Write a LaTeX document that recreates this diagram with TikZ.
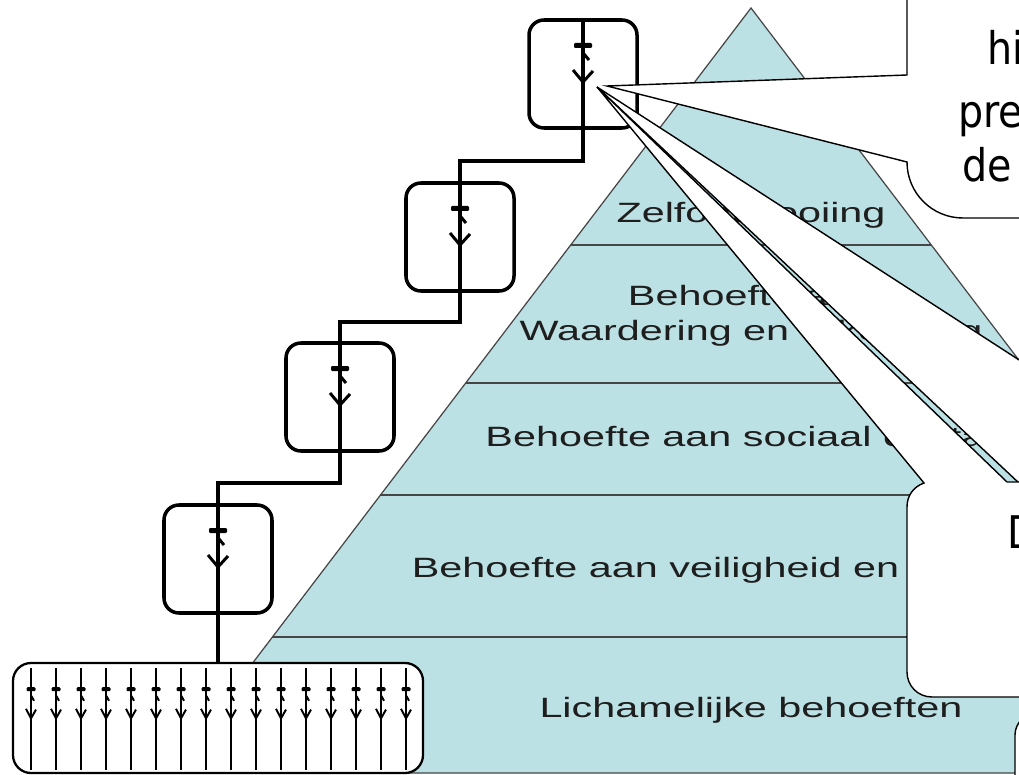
\documentclass[tikz,border=0pt]{standalone}
\usepackage{fontspec}
\setmainfont{Liberation Sans}
\newfontfamily\piramidefont{Liberation Sans}[FakeStretch=1.48]
\newfontfamily\ballonfont{DejaVu Sans}[FakeStretch=0.88]

\definecolor{piramide}{RGB}{188,225,228}
\definecolor{randgrijs}{RGB}{70,70,70}
\definecolor{tekstgrijs}{RGB}{30,30,30}

\tikzstyle{doos}=[draw, fill=white, rounded corners=3mm, line width=2pt,
                  minimum width=21.6mm, minimum height=21.6mm, inner sep=0pt]
\tikzstyle{groep}=[draw, fill=white, rounded corners=3.6mm, line width=1.3pt,
                   minimum width=82mm, minimum height=22mm, inner sep=0pt]
\tikzstyle{trap}=[line width=1.9pt]
\tikzstyle{laag}=[draw=randgrijs, line width=0.7pt]
\tikzstyle{laagtekst}=[anchor=base, inner sep=0pt, text=tekstgrijs,
                       font=\piramidefont\fontsize{15.9}{19}\selectfont]
\tikzstyle{ballon}=[draw, fill=white, line width=0.8pt]
\tikzstyle{ballontekst}=[anchor=base west, inner sep=0pt,
                         font=\ballonfont\fontsize{25.6}{30}\selectfont]

% poppetje op de trap
\tikzset{poppetje/.pic={
    \fill[rounded corners=0.6pt] (-9,-31) rectangle (9,-26);
    \draw (1,-20) -- (6,-14);
    \draw (-10,-4) -- (0,8) -- (10,-3);
}}

\begin{document}
\begin{tikzpicture}[x=0.2mm,y=-0.2mm]
  \useasboundingbox (0,0) rectangle (1019,775);
  \clip (0,0) rectangle (1019,775);

  % piramide
  \filldraw[fill=piramide, laag] (751,8) -- (1333,773) -- (169,773) -- cycle;
  \foreach \y in {245,383,495,637}
    \draw[laag] ({751-0.761*(\y-8)},\y) -- ({751+0.761*(\y-8)},\y);

  \node[laagtekst] (zelf) at (751,223) {Zelfontplooiing};
  \node[laagtekst] (waard1) at (751,306) {Behoefte aan};
  \node[laagtekst] (waard2) at (751,341) {Waardering en erkenning};
  \node[laagtekst] (sociaal) at (751,446) {Behoefte aan sociaal contact};
  \node[laagtekst] (veilig) at (751,577) {Behoefte aan veiligheid en zekerheid};
  \node[laagtekst] (lichaam) at (751,717) {Lichamelijke behoeften};

  % trap
  \node[doos] (trede1) at (583,74) {};
  \node[doos] (trede2) at (460,237) {};
  \node[doos] (trede3) at (340,397) {};
  \node[doos] (trede4) at (218,559) {};
  \node[groep] (groep) at (218,718) {};

  \draw[trap] (trede1.north) -- (trede1.north |- 0,161) -| (trede2.north)
     -- (trede2.south) -- (trede2.south |- 0,322) -| (trede3.north)
     -- (trede3.south) -- (trede3.south |- 0,483) -| (trede4.north)
     -- (trede4.south) -- (groep.north);

  \foreach \t in {1,...,4}
    \pic[line width=1.7pt] at (trede\t.center) {poppetje};

  \foreach \i in {0,...,15} {
    \draw[line width=1.1pt] (31+25*\i,668) -- (31+25*\i,770);
    \pic[xscale=.5,yscale=.8,line width=1.1pt] at (31+25*\i,712) {poppetje};
  }

  % ballonnen
  \coordinate (punt0) at (597,87);
  \coordinate (punt1) at (607,86);

  \draw[ballon] (1015,800) -- (1015,735) .. controls (1015,723) and (1025,713) .. (1037,713)
     -- (1264,713) -- (punt0) -- (1565,713) -- (1700,713) -- (1700,800) -- cycle;

  \draw[ballon] (1100,482) -- (1007,482) -- (punt0) -- (924,483)
     .. controls (913,487) and (907,496) .. (907,507) -- (907,672)
     .. controls (907,686) and (918,697) .. (932,697) -- (1100,697) -- cycle;
  \node[ballontekst] (dtekst) at (1007,548) {D};

  \draw[ballon] (1100,-10) -- (907,-10) -- (907,75) -- (punt1) -- (907,162)
     .. controls (907,193) and (932,218) .. (963,218) -- (1100,218) -- cycle;
  \node[ballontekst] (hi) at (987,65) {hi};
  \node[ballontekst] (pre) at (958,128) {pre};
  \node[ballontekst] (de) at (962,182) {de};
\end{tikzpicture}
\end{document}
